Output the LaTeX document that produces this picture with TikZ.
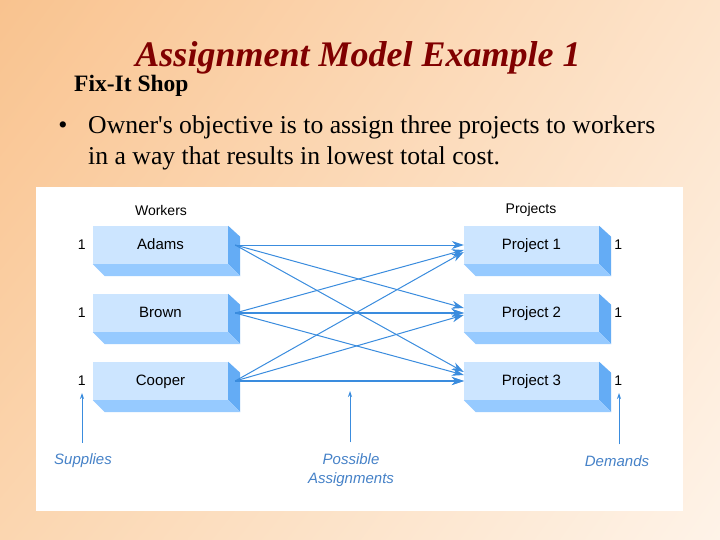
\documentclass[tikz,border=0pt]{standalone}
\usepackage{fontspec}
\setmainfont{Liberation Serif}
\setsansfont{Liberation Sans}
\usetikzlibrary{arrows.meta,calc,shadings}

\definecolor{bgtl}{RGB}{249,195,143}
\definecolor{bgtr}{RGB}{253,228,203}
\definecolor{bgbl}{RGB}{251,214,176}
\definecolor{bgbr}{RGB}{254,243,232}
\definecolor{titlered}{RGB}{128,0,0}
\definecolor{faceblue}{RGB}{204,229,255}
\definecolor{sideblue}{RGB}{100,172,245}
\definecolor{bottomblue}{RGB}{150,202,255}
\definecolor{linkblue}{RGB}{58,140,222}
\definecolor{labelblue}{RGB}{70,130,200}

\newcommand\boxfaces[1]{%
  \fill[sideblue] (#1.north east) -- ++(12,11) -- ($(#1.south east)+(12,12)$) -- (#1.south east) -- cycle;
  \fill[bottomblue] (#1.south west) -- ++(12,12) -- ($(#1.south east)+(12,12)$) -- (#1.south east) -- cycle;}

\begin{document}
\begin{tikzpicture}[x=1pt,y=-1pt,
  every node/.style={inner sep=0pt},
  front/.style={fill=faceblue,minimum width=135pt,minimum height=38pt,text height=11pt,text depth=3pt,font=\sffamily\fontsize{15}{15}\selectfont},
  num/.style={font=\sffamily\fontsize{14}{14}\selectfont},
  head/.style={font=\sffamily\fontsize{14}{14}\selectfont},
  bodytext/.style={font=\fontsize{25.7}{26}\selectfont,anchor=base west},
  note/.style={font=\sffamily\itshape\fontsize{15}{19}\selectfont,text=labelblue,align=center},
  link/.style={draw=linkblue,line width=1pt,-{Stealth[length=12pt,width=8pt]}},
  pointer/.style={draw=linkblue,line width=0.8pt,-{Stealth[length=6pt,width=4pt]}}]
  \useasboundingbox (0,0) rectangle (720,540);
  \shade[upper left=bgtl,upper right=bgtr,lower left=bgbl,lower right=bgbr] (0,0) rectangle (720,540);

  \node[font=\bfseries\itshape\fontsize{36}{36}\selectfont,text=titlered] (title) at (358,58) {Assignment Model Example 1};
  \node[font=\bfseries\fontsize{23.5}{24}\selectfont,anchor=base west] (shop) at (74,92) {Fix-It Shop};
  \node[font=\fontsize{26}{26}\selectfont,anchor=base] (dot) at (63,134) {\textbullet};
  \node[bodytext] (line1) at (88,134) {Owner\textquotesingle s objective is to assign three projects to workers};
  \node[bodytext] (line2) at (88,165) {in a way that results in lowest total cost.};

  \fill[white] (36,187) rectangle (683,511);

  \node[head] (workers) at (161,210) {Workers};
  \node[head] (projects) at (531,210) {Projects};

  \node[front] (adams) at (160.5,245) {Adams};
  \node[front] (brown) at (160.5,313) {Brown};
  \node[front] (cooper) at (160.5,381) {Cooper};
  \node[front] (proj1) at (531.5,245) {Project 1};
  \node[front] (proj2) at (531.5,313) {Project 2};
  \node[front] (proj3) at (531.5,381) {Project 3};
  \foreach \b in {adams,brown,cooper,proj1,proj2,proj3} {
    \boxfaces{\b}
  }

  \foreach \b in {adams,brown,cooper} {
    \node[num] (s-\b) at ($(\b.west)+(-11,0)$) {1};
  }
  \foreach \b in {proj1,proj2,proj3} {
    \node[num] (d-\b) at ($(\b.east)+(19,0)$) {1};
  }

  \foreach \w/\p/\dy in {adams/proj1/0,adams/proj2/-5,adams/proj3/-9,
                         brown/proj1/5,brown/proj2/0,brown/proj3/-6,
                         cooper/proj1/7,cooper/proj2/2,cooper/proj3/0}
    \draw[link] ($(\w.east)+(7,0)$) -- ($(\p.west)+(0,\dy)$);
  \draw[link,line width=1.5pt] ($(brown.east)+(7,0)$) -- (proj2.west);
  \draw[link,line width=1.5pt] ($(cooper.east)+(7,0)$) -- (proj3.west);

  \node[note] (supplies) at (83,461) {Supplies};
  \node[note] (possible) at (351,470) {Possible\\Assignments};
  \node[note] (demands) at (617,461) {Demands};
  \coordinate (suptip) at (82,393);
  \coordinate (postip) at (350,391);
  \coordinate (demtip) at (619,393);
  \draw[pointer] ($(supplies.north)+(-1,-11)$) -- (suptip);
  \draw[pointer] ($(possible.north)+(-1,-11)$) -- (postip);
  \draw[pointer] ($(demands.north)+(2,-11)$) -- (demtip);
\end{tikzpicture}
\end{document}
